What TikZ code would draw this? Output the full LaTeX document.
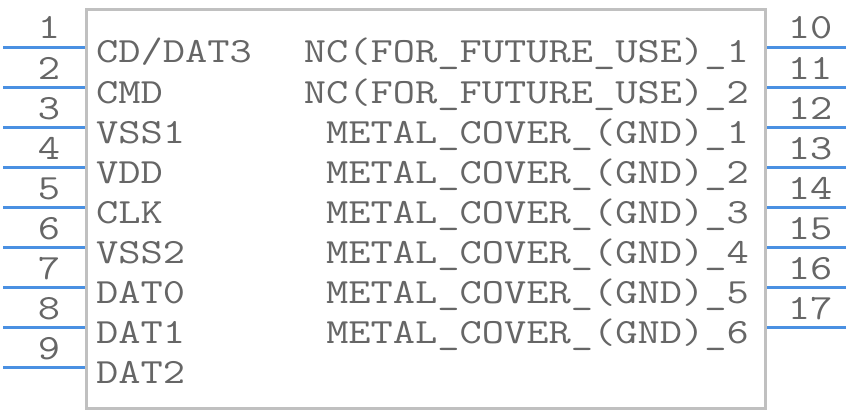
\documentclass[tikz,border=0pt]{standalone}
\usepackage{fontspec}
\setmonofont[FakeStretch=1.22]{Latin Modern Mono}
\definecolor{pinblue}{RGB}{74,144,226}
\definecolor{boxgray}{RGB}{192,192,192}
\definecolor{txtgray}{RGB}{102,102,102}
\tikzset{
  pinline/.style={draw=pinblue,line width=3pt},
  bodybox/.style={draw=boxgray,line width=3pt,fill=white},
  lbl/.style={inner sep=0pt,text=txtgray,font=\ttfamily\fontsize{35.4}{36}\selectfont},
  pinnum/.style={lbl,anchor=base},
}
\begin{document}
\begin{tikzpicture}[x=1pt,y=-1pt]
\useasboundingbox (0,0) rectangle (848,412);
\node[bodybox,minimum width=679pt,minimum height=398pt,inner sep=0pt,anchor=north west] (body) at (85,8.5) {};
% left pins
\foreach \i/\t [count=\k from 0] in {1/CD\slash DAT3,2/CMD,3/VSS1,4/VDD,5/CLK,6/VSS2,7/DAT0,8/DAT1,9/DAT2}{
  \coordinate (lp\i) at (3,47.5+40*\k);
  \draw[pinline] (lp\i) -- (lp\i -| body.west);
  \node[pinnum] (ln\i) at (49,39+40*\k) {\i};
  \node[lbl,anchor=base west] (ll\i) at (96,63+40*\k) {\t};
}
% right pins
\foreach \i/\t [count=\k from 0] in {10/NC(FOR\_FUTURE\_USE)\_1,11/NC(FOR\_FUTURE\_USE)\_2,12/METAL\_COVER\_(GND)\_1,13/METAL\_COVER\_(GND)\_2,14/METAL\_COVER\_(GND)\_3,15/METAL\_COVER\_(GND)\_4,16/METAL\_COVER\_(GND)\_5,17/METAL\_COVER\_(GND)\_6}{
  \coordinate (rp\i) at (846,47.5+40*\k);
  \draw[pinline] (rp\i) -- (rp\i -| body.east);
  \node[pinnum] (rn\i) at (810,39+40*\k) {\i};
  \node[lbl,anchor=base east] (rl\i) at (749,63+40*\k) {\t};
}
\end{tikzpicture}
\end{document}
